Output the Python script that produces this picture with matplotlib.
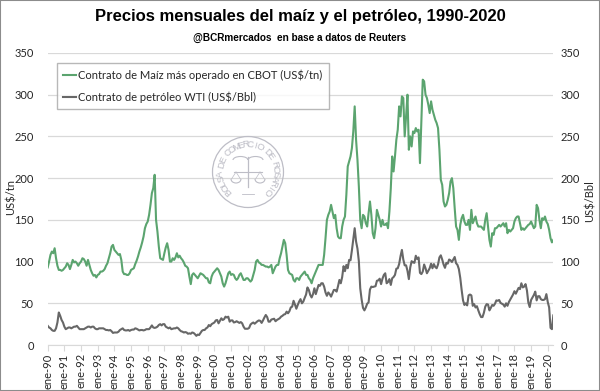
import matplotlib
matplotlib.use("Agg")
import matplotlib.pyplot as plt
import numpy as np
from matplotlib.patches import Arc, Circle, Rectangle

# eje x: un tick por enero, 1990-2020
years = list(range(1990, 2021))
tick_labels = ['ene-%02d' % (y % 100) for y in years]

# maiz, contrato mas operado CBOT (US$/tn), mensual ene-90 .. may-20
maiz = [
    93, 100, 108, 112, 110, 116, 104, 95, 90, 90, 89, 90,          # 1990
    92, 94, 98, 96, 91, 96, 102, 99, 100, 98, 95, 98,              # 1991
    100, 104, 103, 100, 95, 102, 96, 90, 86, 83, 84, 81,           # 1992
    84, 85, 88, 88, 89, 91, 95, 98, 104, 110, 118, 120,            # 1993
    114, 112, 110, 108, 109, 102, 88, 85, 85, 84, 84, 86,          # 1994
    90, 91, 92, 97, 101, 106, 112, 117, 123, 130, 140, 145,        # 1995
    148, 156, 168, 182, 188, 204, 150, 136, 118, 104, 103, 102,    # 1996
    110, 117, 122, 114, 100, 100, 104, 102, 105, 110, 105, 107,    # 1997
    104, 102, 99, 95, 94, 92, 82, 73, 84, 86, 84, 82,              # 1998
    80, 83, 86, 85, 84, 82, 80, 80, 75, 74, 82, 86,                # 1999
    88, 90, 92, 90, 86, 82, 74, 70, 74, 80, 86, 88,                # 2000
    84, 85, 84, 80, 78, 80, 84, 86, 82, 78, 78, 80,                # 2001
    80, 78, 76, 78, 84, 90, 100, 102, 99, 98, 96, 96,              # 2002
    95, 94, 94, 93, 94, 96, 86, 90, 94, 96, 96, 104,               # 2003
    110, 118, 126, 122, 108, 90, 86, 85, 84, 78, 76, 80,           # 2004
    80, 78, 82, 84, 86, 88, 84, 84, 80, 78, 74, 80,                # 2005
    84, 88, 92, 96, 96, 96, 96, 108, 128, 150, 156, 160,           # 2006
    168, 160, 152, 156, 140, 130, 128, 128, 142, 150, 154, 180,    # 2007
    214, 220, 226, 236, 256, 286, 246, 222, 190, 150, 140, 156,    # 2008
    154, 146, 142, 158, 172, 156, 134, 128, 140, 162, 156, 150,    # 2009
    142, 150, 144, 144, 146, 140, 160, 188, 226, 208, 226, 246,    # 2010
    258, 286, 274, 298, 296, 250, 274, 300, 234, 250, 238, 256,    # 2011
    254, 260, 256, 258, 218, 270, 318, 316, 300, 296, 288, 278,    # 2012
    292, 282, 276, 270, 266, 260, 234, 198, 192, 172, 166, 168,    # 2013
    174, 182, 196, 200, 188, 164, 142, 138, 126, 144, 152, 156,    # 2014
    148, 144, 144, 150, 138, 162, 146, 150, 154, 146, 142, 142,    # 2015
    142, 140, 138, 150, 158, 142, 126, 118, 134, 132, 140, 140,    # 2016
    142, 144, 142, 144, 146, 142, 146, 134, 138, 136, 138, 140,    # 2017
    148, 152, 154, 154, 146, 138, 140, 138, 140, 142, 144, 145,    # 2018
    148, 144, 140, 142, 168, 164, 150, 140, 152, 150, 154, 148,    # 2019
    145, 138, 128, 123, 126,                                       # 2020
]

# petroleo WTI (US$/Bbl), mismo periodo
wti = [
    23, 21, 20, 18, 17, 17, 20, 27, 39, 35, 30, 27,                          # 1990
    22, 19, 20, 21, 21, 20, 21, 22, 22, 23, 21, 19,                          # 1991
    19, 19, 19, 20, 21, 22, 22, 21, 22, 22, 20, 19,                          # 1992
    19, 20, 20, 20, 20, 19, 18, 18, 17.5, 18, 16.5, 14.5,                    # 1993
    15, 15, 15, 16, 18, 19, 20, 18, 17.5, 17.5, 18, 17,                      # 1994
    18, 18.5, 18.5, 20, 19.5, 18.5, 17.5, 18, 18, 17.5, 18, 19,              # 1995
    19, 19, 21, 23.5, 21, 20.5, 21, 22, 24, 25, 23.5, 25,                    # 1996
    25, 22, 21, 20, 21, 19, 19.5, 20, 20, 21, 20, 18,                        # 1997
    16.5, 16, 15, 15.5, 15, 13.5, 14, 13.5, 15, 14.5, 13, 11,                # 1998
    12.5, 12, 14.5, 17, 18, 18, 20, 21, 24, 22.5, 25, 26,                    # 1999
    27, 29.5, 30, 26, 29, 32, 30, 31, 34, 33, 34, 28,                        # 2000
    29.5, 29.5, 27, 27.5, 28.5, 27.5, 26.5, 27.5, 26, 22, 19.5, 19.5,        # 2001
    19.5, 20.5, 24.5, 26, 27, 25.5, 27, 28.5, 29.5, 29, 26.5, 29.5,          # 2002
    33, 36, 33.5, 28, 28, 30.5, 31, 31.5, 28.5, 30, 31, 32,                  # 2003
    34, 35, 36.5, 37, 40, 38, 40.5, 45, 46, 53, 48.5, 43.5,                  # 2004
    48, 52, 55, 50, 52, 56.5, 60.5, 69, 66, 60, 57, 61,                      # 2005
    68, 61, 66.5, 72, 71, 74, 74, 70, 63, 59, 63, 61,                        # 2006
    58, 62, 66, 66, 64, 70.5, 78, 74, 81.5, 94.5, 88.5, 96,                  # 2007
    92, 102, 101.5, 113.5, 127, 140, 124, 115.5, 100.5, 68, 54.5, 44.5,      # 2008
    41.5, 45, 49.5, 51, 66.5, 70, 69.5, 70, 70.5, 77, 77.5, 79.5,            # 2009
    73, 79.5, 84, 86, 74, 75.5, 79, 72, 80, 81.5, 84, 91.5,                  # 2010
    92, 97, 106.5, 114, 102.5, 95.5, 95.5, 89, 79, 93, 100.5, 99,            # 2011
    98.5, 107, 103, 105, 86.5, 85, 88, 96.5, 92, 86, 89, 92,                 # 2012
    97.5, 92, 97, 93.5, 92, 96.5, 105, 107.5, 102.5, 96.5, 92.5, 98.5,       # 2013
    97.5, 102.5, 101.5, 99.5, 102.5, 105.5, 98, 96, 91, 80.5, 66, 53.5,      # 2014
    48, 50, 47.5, 59.5, 60.5, 59.5, 47, 49, 45, 46.5, 41.5, 37,              # 2015
    33.5, 33.5, 38.5, 46, 49, 48.5, 41.5, 44.5, 48, 47, 49.5, 53.5,          # 2016
    53, 54, 50.5, 49.5, 48.5, 46, 50, 47, 51.5, 54.5, 57.5, 60.5,            # 2017
    64.5, 61.5, 65, 68.5, 67, 74, 69, 70, 73, 65.5, 51, 45.5,                # 2018
    54, 57, 60, 64, 53.5, 58.5, 58.5, 55, 54, 54, 55, 61,                    # 2019
    51.5, 45, 20.5, 19, 35.5,                                                # 2020
]

GREEN = '#5BA46F'
GRAY = '#676767'
GRID = '#D9D9D9'
TXT = '#262626'
NARROW = ['Liberation Sans Narrow', 'Liberation Sans', 'DejaVu Sans']

plt.rcParams['font.family'] = ['Lato', 'DejaVu Sans']

fig = plt.figure(figsize=(6, 3.91), dpi=100)
ax = fig.add_axes([0.0795, 0.1176, 0.8427, 0.7469])

x = np.arange(len(maiz))
ax.plot(x, maiz, color=GREEN, lw=1.5, label='Contrato de Maíz más operado en CBOT (US$/tn)')
ax.plot(x, wti, color=GRAY, lw=1.5, label='Contrato de petróleo WTI (US$/Bbl)')

ax.set_xlim(0, len(maiz) - 1)
ax.set_ylim(0, 350)
ax.set_yticks(range(0, 351, 50))
ax.yaxis.grid(True, color=GRID, lw=0.9)
ax.set_axisbelow(True)
for s in ['top', 'right', 'left']:
    ax.spines[s].set_visible(False)
ax.spines['bottom'].set_color(GRID)
ax.set_xticks(np.arange(0, len(maiz), 12))
ax.set_xticklabels(tick_labels, rotation=90)
ax.tick_params(axis='x', length=4, color=GRID, labelsize=8, pad=2, labelcolor=TXT)
ax.tick_params(axis='y', length=0, labelsize=8, pad=10, labelcolor=TXT)

ax2 = ax.twinx()
ax2.set_ylim(0, 350)
ax2.set_yticks(range(0, 351, 50))
for s in ax2.spines.values():
    s.set_visible(False)
ax2.tick_params(axis='y', length=0, labelsize=8, pad=5, labelcolor=TXT)

leg = ax.legend(loc='upper left', bbox_to_anchor=(0.018, 0.966), frameon=True,
                fancybox=False, edgecolor='#A6A6A6', fontsize=8, handlelength=1.1,
                handletextpad=0.2, labelspacing=0.9, borderpad=0.6, borderaxespad=0)
leg.get_frame().set_linewidth(1.0)
for t in leg.get_texts():
    t.set_color(TXT)

fig.text(0.5, 1 - 17 / 391, 'Precios mensuales del maíz y el petróleo, 1990-2020',
         ha='center', va='center', fontsize=12, weight='bold', family=NARROW)
fig.text(0.5, 1 - 38 / 391, '@BCRmercados  en base a datos de Reuters',
         ha='center', va='center', fontsize=7.2, weight='bold', family=NARROW)
fig.text(0.018, 0.496, 'US$/tn', rotation=90, ha='center', va='center', fontsize=8, color=TXT)
fig.text(0.983, 0.486, 'US$/Bbl', rotation=90, ha='center', va='center', fontsize=8, color=TXT)

# sello de agua de la Bolsa de Comercio de Rosario
cx, cy = 2.48, 3.91 - 1.72
WM = '#BDBDC6'
tr = fig.dpi_scale_trans
fig.add_artist(Circle((cx, cy), 0.355, transform=tr, fill=False, edgecolor=WM, lw=0.9))
seal = 'BOLSA DE COMERCIO DE ROSARIO'
angles = np.linspace(224, -44, len(seal))
for ch, a in zip(seal, angles):
    r = np.deg2rad(a)
    fig.text((cx + 0.275 * np.cos(r)) / 6, (cy + 0.275 * np.sin(r)) / 3.91, ch,
             rotation=a - 90, ha='center', va='center', fontsize=6.8, color=WM,
             family=NARROW)
# caduceo y balanza
fig.add_artist(plt.Line2D([cx, cx], [cy - 0.15, cy + 0.15], transform=tr, color=WM, lw=0.9))
fig.add_artist(plt.Line2D([cx - 0.14, cx + 0.14], [cy + 0.0, cy + 0.0], transform=tr,
                          color=WM, lw=0.8))
for sx in (-1, 1):
    fig.add_artist(Arc((cx + sx * 0.12, cy - 0.07), 0.1, 0.08, theta1=180, theta2=360,
                       transform=tr, color=WM, lw=0.8))
    fig.add_artist(plt.Line2D([cx + sx * 0.12, cx + sx * 0.075], [cy, cy - 0.07],
                              transform=tr, color=WM, lw=0.5))
    fig.add_artist(plt.Line2D([cx + sx * 0.12, cx + sx * 0.165], [cy, cy - 0.07],
                              transform=tr, color=WM, lw=0.5))
    fig.add_artist(Arc((cx + sx * 0.075, cy + 0.12), 0.15, 0.07, theta1=0, theta2=180,
                       transform=tr, color=WM, lw=0.8))
fig.add_artist(plt.Line2D([cx - 0.06, cx + 0.06], [cy - 0.22, cy - 0.22], transform=tr,
                          color=WM, lw=0.6))

fig.add_artist(Rectangle((0, 0), 1, 1, transform=fig.transFigure, fill=False,
                         edgecolor='#8C8C8C', lw=1.5))

fig.savefig('out.png', dpi=100)
